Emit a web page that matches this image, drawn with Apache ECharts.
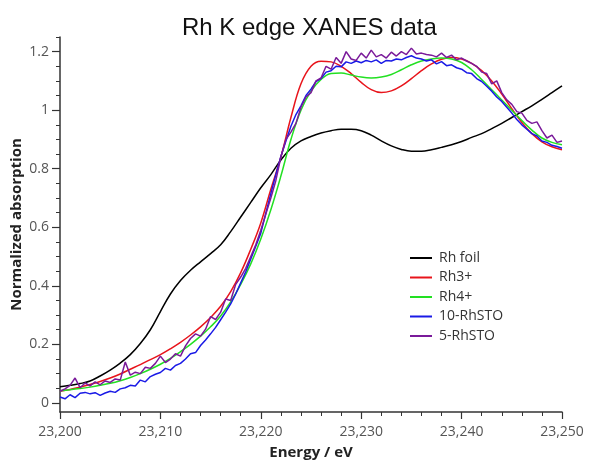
<!DOCTYPE html>
<html>
<head>
<meta charset="utf-8">
<script src="https://cdn.jsdelivr.net/npm/echarts@6/dist/echarts.min.js"></script>
<style>html,body{margin:0;padding:0;background:#fff}#c{width:590px;height:462px}</style>
</head>
<body>
<div id="c"></div>
<script>
var energy1 = [23200,23201,23202,23203,23204,23205,23206,23207,23208,23209,23210,23211,23212,23213,23214,23215,23216,23217,23218,23219,23220,23221,23222,23223,23224,23225,23226,23227,23228,23229,23230,23231,23232,23233,23234,23235,23236,23237,23238,23239,23240,23241,23242,23243,23244,23245,23246,23247,23248,23249,23250];
var energyHalf = [23200,23200.5,23201,23201.5,23202,23202.5,23203,23203.5,23204,23204.5,23205,23205.5,23206,23206.5,23207,23207.5,23208,23208.5,23209,23209.5,23210,23210.5,23211,23211.5,23212,23212.5,23213,23213.5,23214,23214.5,23215,23215.5,23216,23216.5,23217,23217.5,23218,23218.5,23219,23219.5,23220,23220.5,23221,23221.5,23222,23222.5,23223,23223.5,23224,23224.5,23225,23225.5,23226,23226.5,23227,23227.5,23228,23228.5,23229,23229.5,23230,23230.5,23231,23231.5,23232,23232.5,23233,23233.5,23234,23234.5,23235,23235.5,23236,23236.5,23237,23237.5,23238,23238.5,23239,23239.5,23240,23240.5,23241,23241.5,23242,23242.5,23243,23243.5,23244,23244.5,23245,23245.5,23246,23246.5,23247,23247.5,23248,23248.5,23249,23249.5,23250];

var rhFoil = [0.055,0.060,0.066,0.075,0.092,0.112,0.136,0.165,0.203,0.250,0.312,0.372,0.418,0.453,0.482,0.510,0.540,0.585,0.635,0.685,0.735,0.780,0.830,0.870,0.895,0.910,0.922,0.930,0.935,0.935,0.930,0.915,0.895,0.878,0.866,0.860,0.860,0.865,0.873,0.882,0.893,0.907,0.920,0.937,0.955,0.975,0.995,1.015,1.037,1.060,1.083];
var rh3 = [0.040,0.046,0.054,0.063,0.073,0.085,0.099,0.115,0.131,0.148,0.165,0.185,0.207,0.232,0.260,0.292,0.330,0.380,0.445,0.525,0.615,0.730,0.840,0.975,1.090,1.150,1.167,1.165,1.150,1.125,1.095,1.070,1.060,1.066,1.083,1.108,1.135,1.158,1.174,1.180,1.175,1.160,1.135,1.100,1.055,1.005,0.958,0.920,0.892,0.875,0.865];
var rh4 = [0.042,0.045,0.049,0.054,0.060,0.067,0.076,0.087,0.100,0.115,0.132,0.152,0.175,0.200,0.228,0.260,0.297,0.345,0.405,0.475,0.560,0.660,0.775,0.900,1.000,1.065,1.105,1.125,1.127,1.120,1.113,1.110,1.113,1.122,1.138,1.155,1.168,1.175,1.178,1.175,1.163,1.138,1.105,1.070,1.035,1.000,0.965,0.932,0.905,0.890,0.882];
var rhSTO10 = [0.020,0.014,0.028,0.018,0.033,0.036,0.031,0.035,0.026,0.034,0.040,0.036,0.048,0.052,0.060,0.058,0.078,0.072,0.090,0.098,0.104,0.118,0.112,0.128,0.135,0.150,0.168,0.172,0.196,0.215,0.236,0.258,0.284,0.310,0.338,0.372,0.410,0.448,0.492,0.535,0.580,0.648,0.715,0.780,0.842,0.895,0.945,0.985,1.015,1.050,1.072,1.098,1.108,1.130,1.135,1.150,1.148,1.165,1.160,1.168,1.162,1.170,1.165,1.172,1.160,1.170,1.168,1.175,1.172,1.180,1.186,1.178,1.175,1.168,1.172,1.158,1.166,1.152,1.155,1.145,1.140,1.128,1.125,1.108,1.098,1.082,1.065,1.045,1.030,1.010,0.990,0.968,0.950,0.935,0.920,0.912,0.895,0.890,0.880,0.876,0.870];
var rhSTO5 = [0.040,0.048,0.060,0.085,0.052,0.068,0.058,0.072,0.062,0.075,0.070,0.082,0.078,0.140,0.095,0.105,0.100,0.122,0.118,0.135,0.160,0.138,0.150,0.168,0.160,0.195,0.220,0.236,0.228,0.252,0.295,0.285,0.310,0.355,0.350,0.405,0.430,0.460,0.500,0.540,0.590,0.645,0.700,0.760,0.840,0.900,0.925,0.955,1.010,1.045,1.060,1.100,1.110,1.150,1.140,1.180,1.160,1.200,1.175,1.170,1.195,1.178,1.205,1.182,1.190,1.178,1.198,1.185,1.200,1.190,1.212,1.192,1.195,1.190,1.188,1.182,1.195,1.180,1.188,1.172,1.178,1.168,1.160,1.150,1.130,1.125,1.090,1.100,1.060,1.035,1.020,0.995,0.990,0.965,0.955,0.960,0.930,0.905,0.915,0.890,0.895];

var seriesNames = ['Rh foil','Rh3+','Rh4+','10-RhSTO','5-RhSTO'];
var seriesColors = ['#000000','#e8141b','#22e022','#1a1ae6','#7a1a9a'];
var yMajorTicks = [0,0.2,0.4,0.6,0.8,1,1.2];
var yMinorTicks = [0,0.05,0.1,0.15,0.2,0.25,0.3,0.35,0.4,0.45,0.5,0.55,0.6,0.65,0.7,0.75,0.8,0.85,0.9,0.95,1,1.05,1.1,1.15,1.2,1.25];

function pairs(xs, ys){ return ys.map(function(v,i){ return [xs[i], v]; }); }
var seriesData = [pairs(energy1, rhFoil), pairs(energy1, rh3), pairs(energy1, rh4), pairs(energyHalf, rhSTO10), pairs(energyHalf, rhSTO5)];

var chart = echarts.init(document.getElementById('c'), null, {renderer:'canvas'});
var labelFont = '"Open Sans", "Noto Sans", sans-serif';
function fmt(v){ return v.toFixed(0).replace(/\B(?=(\d{3})+(?!\d))/g, ','); }
chart.setOption({
  animation: false,
  backgroundColor: '#fff',
  title: {
    text: 'Rh K edge XANES data', left: 177, top: 11,
    textStyle: {fontFamily: '"Liberation Sans", Arial, sans-serif', fontSize: 24, fontWeight: 'normal', color: '#111'}
  },
  legend: {
    orient: 'vertical', left: 405, top: 246, itemWidth: 22, itemHeight: 2, itemGap: 5.5,
    icon: 'rect',
    data: seriesNames,
    textStyle: {fontFamily: labelFont, fontSize: 14, color: '#333', padding: [0,0,0,2]}
  },
  grid: {left: 60, right: 28, top: 37, bottom: 50, containLabel: false, outerBoundsMode: 'none'},
  xAxis: {
    type: 'value', min: 23200, max: 23250, interval: 10,
    name: 'Energy / eV', nameLocation: 'middle', nameGap: 33,
    nameTextStyle: {fontFamily: labelFont, fontSize: 15, fontWeight: 'bold', color: '#222'},
    axisLine: {show: true, onZero: false, lineStyle: {color: '#333', width: 1.5}},
    axisTick: {show: true, length: 7, lineStyle: {color: '#333', width: 1.2}},
    minorTick: {show: true, splitNumber: 5, length: 4, lineStyle: {color: '#333', width: 1}},
    splitLine: {show: false},
    axisLabel: {fontFamily: labelFont, fontSize: 14, color: '#555', margin: 13, formatter: fmt}
  },
  yAxis: [{
    type: 'value', min: -0.031, max: 1.25,
    name: 'Normalized absorption', nameLocation: 'middle', nameGap: 36, nameMoveOverlap: false,
    nameTextStyle: {fontFamily: labelFont, fontSize: 15, fontWeight: 'bold', color: '#222'},
    axisLine: {show: true, lineStyle: {color: '#333', width: 1.5}},
    axisTick: {show: true, length: 8, customValues: yMajorTicks, lineStyle: {color: '#333', width: 1.2}},
    splitLine: {show: false},
    axisLabel: {fontFamily: labelFont, fontSize: 14, color: '#555', margin: 11, customValues: yMajorTicks,
      formatter: function(v){ return String(Math.round(v*10)/10); }}
  },{
    type: 'value', min: -0.031, max: 1.25, position: 'left',
    axisLine: {show: false},
    axisTick: {show: true, length: 4, customValues: yMinorTicks, lineStyle: {color: '#333', width: 1}},
    splitLine: {show: false},
    axisLabel: {show: false}
  }],
  series: seriesData.map(function(d, i){
    return {
      name: seriesNames[i], type: 'line', data: d, showSymbol: false, symbol: 'none',
      smooth: i < 3 ? 0.4 : false,
      yAxisIndex: 0,
      lineStyle: {color: seriesColors[i], width: 1.5},
      itemStyle: {color: seriesColors[i]}
    };
  })
});
</script>
</body>
</html>
